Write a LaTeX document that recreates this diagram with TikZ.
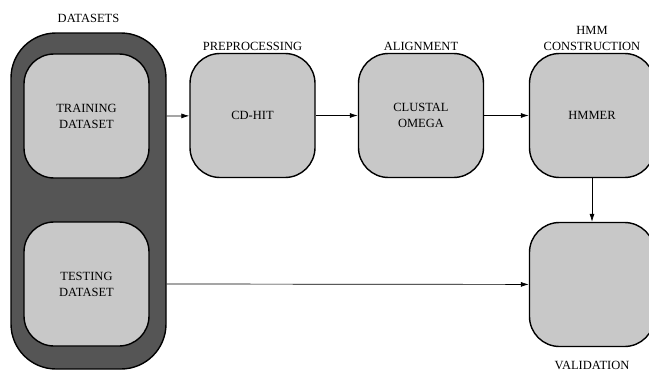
\documentclass[tikz,border=0pt]{standalone}
\usepackage{fontspec}
\setmainfont{Liberation Serif}
\usepackage{tikz}
\usetikzlibrary{arrows.meta, positioning, calc}
\usepackage{xcolor}
\definecolor{boxgray}{HTML}{C8C8C8}
\definecolor{darkgray}{HTML}{555555}

\begin{document}
\begin{tikzpicture}[x=1pt, y=-1pt,
        font=\fontsize{12.5}{16}\selectfont,
        stage/.style={rectangle, rounded corners=30pt, draw, line width=1.4pt, fill=boxgray,
          minimum width=125pt, minimum height=124pt, align=center, inner sep=0pt},
        title/.style={align=center, inner sep=1pt},
        arr/.style={-{Latex[length=8pt, width=5pt]}, line width=0.7pt}
      ]
      \useasboundingbox (0,0) rectangle (649,372);
      % datasets column
      \node[rectangle, rounded corners=45pt, draw, line width=1.4pt, fill=darkgray,
            minimum width=155pt, minimum height=336pt] (cont) at (88.5,201) {};
      \node[stage] (train) at (86.5,116) {TRAINING\\DATASET};
      \node[stage] (test)  at (86.5,284) {TESTING\\DATASET};
      % pipeline
      \node[stage] (cdhit)   at (252.5,115.5) {CD-HIT};
      \node[stage] (clustal) at (421,115.5)   {CLUSTAL\\OMEGA};
      \node[stage] (hmmer)   at (592,115.5)   {HMMER};
      \node[stage] (valid)   at (592,284.5)   {};
      % titles
      \node[title, above=8pt of cont]     (tdata)  {DATASETS};
      \node[title, above=1pt of cdhit]    (tprep)  {PREPROCESSING};
      \node[title, above=1pt of clustal]  (talign) {ALIGNMENT};
      \node[title, above=1pt of hmmer]    (thmm)   {HMM\\CONSTRUCTION};
      \node[title, below=13pt of valid]   (tvalid) {VALIDATION};
      % connectors
      \draw[arr] (train -| cont.east) -- (cdhit);
      \draw[arr] (cdhit) -- (clustal);
      \draw[arr] (clustal) -- (hmmer);
      \draw[arr] (hmmer) -- (valid);
      \draw[arr] (test -| cont.east) -- (valid);
    \end{tikzpicture}
\end{document}
